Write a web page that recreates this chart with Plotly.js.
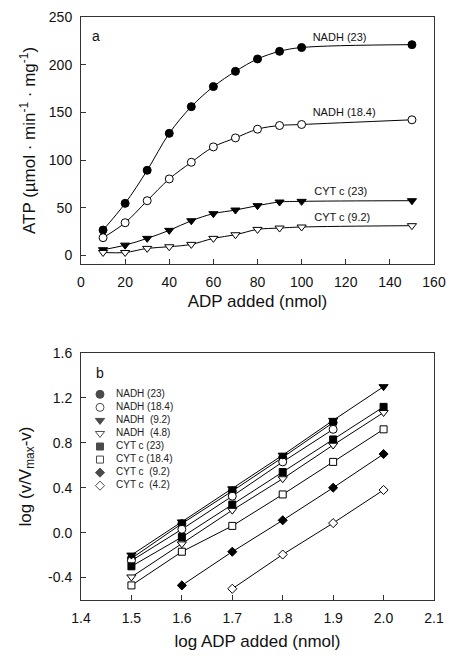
<!DOCTYPE html>
<html>
<head>
<meta charset="utf-8">
<script src="https://cdn.plot.ly/plotly-3.0.1.min.js"></script>
<style>
html,body{margin:0;padding:0;background:#fff;}
#chart{width:471px;height:659px;}
</style>
</head>
<body>
<div id="chart"></div>
<script>
// ---------- Panel a data ----------
const adpAdded = [10, 20, 30, 40, 50, 60, 70, 80, 90, 100, 150];
const nadh23 = [26.6, 54.6, 89.3, 128, 156, 177, 193, 206, 214, 218, 221];
const nadh184 = [18.6, 34.3, 57.4, 80.2, 97.7, 113.8, 123.2, 132.4, 136.2, 137.3, 142.2];
const cyt23 = [6.0, 10.8, 17.9, 26.3, 36.4, 43.8, 47.6, 52.2, 56.0, 56.7, 57.4];
const cyt92 = [3.1, 3.1, 7.4, 9.1, 11.6, 17.9, 21.7, 27.3, 28.7, 29.8, 31.2];
const curveLabels = ["NADH (23)", "NADH (18.4)", "CYT c (23)", "CYT c (9.2)"];
const curveLabelX = [105, 105, 105.7, 105.7];
const curveLabelY = [228, 149, 65.8, 38.9];

// ---------- Panel b data ----------
const logAdp = [1.5, 1.6, 1.7, 1.8, 1.9, 2.0];
const bNadh23 = [-0.23, 0.08, 0.37, 0.67, 0.98];
const bNadh184 = [-0.25, 0.03, 0.325, 0.63, 0.92];
const bNadh92 = [-0.20, 0.095, 0.39, 0.69, 1.00, 1.30];
const bNadh48 = [-0.395, -0.10, 0.20, 0.48, 0.78, 1.07];
const bCyt23 = [-0.30, -0.04, 0.25, 0.54, 0.83, 1.12];
const bCyt184 = [-0.47, -0.17, 0.06, 0.34, 0.63, 0.92];
const bCyt92 = [-0.47, -0.17, 0.11, 0.40, 0.70];
const bCyt42 = [-0.50, -0.195, 0.085, 0.38];
const legendLabels = ["NADH (23)", "NADH (18.4)", "NADH\u00a0 (9.2)", "NADH\u00a0 (4.8)",
                      "CYT c (23)", "CYT c (18.4)", "CYT c\u00a0 (9.2)", "CYT c\u00a0 (4.2)"];
const bYTickVals = [-0.4, 0.0, 0.4, 0.8, 1.2, 1.6];
const bYTickText = ["-0.4", "0.0", "0.4", "0.8", "1.2", "1.6"];

// ---------- styles ----------
const FONT = "Liberation Sans, Arial, sans-serif";
const styleA = [
  {symbol: "circle", color: "black", size: 8},
  {symbol: "circle", color: "white", size: 8},
  {symbol: "triangle-down", color: "black", size: 8},
  {symbol: "triangle-down", color: "white", size: 8}
];
const styleB = [
  {symbol: "circle", color: "black", size: 8},
  {symbol: "circle", color: "white", size: 8},
  {symbol: "triangle-down", color: "black", size: 8},
  {symbol: "triangle-down", color: "white", size: 8},
  {symbol: "square", color: "black", size: 7},
  {symbol: "square", color: "white", size: 7},
  {symbol: "diamond", color: "black", size: 7},
  {symbol: "diamond", color: "white", size: 7}
];

const traces = [];
const seriesA = [nadh23, nadh184, cyt23, cyt92];
seriesA.forEach((ys, i) => {
  traces.push({
    x: adpAdded, y: ys, xaxis: "x", yaxis: "y",
    mode: "lines+markers", type: "scatter", showlegend: false, cliponaxis: false,
    line: {color: "black", width: 1, shape: "spline"},
    marker: {symbol: styleA[i].symbol, color: styleA[i].color, size: styleA[i].size,
             line: {color: "black", width: 1}}
  });
});

const seriesB = [bNadh23, bNadh184, bNadh92, bNadh48, bCyt23, bCyt184, bCyt92, bCyt42];
seriesB.forEach((ys, i) => {
  // NADH (23) and NADH (18.4) stop at 1.9; CYT c (9.2) / (4.2) start later
  const xs = (i < 2) ? logAdp.slice(0, ys.length) : logAdp.slice(logAdp.length - ys.length);
  traces.push({
    x: xs, y: ys, xaxis: "x2", yaxis: "y2",
    mode: "lines+markers", type: "scatter", showlegend: false, cliponaxis: false,
    line: {color: "black", width: 1},
    marker: {symbol: styleB[i].symbol, color: styleB[i].color, size: styleB[i].size,
             line: {color: "black", width: 1}}
  });
});

// curve labels of panel a
traces.push({
  x: curveLabelX, y: curveLabelY, xaxis: "x", yaxis: "y",
  mode: "text", type: "scatter", showlegend: false, cliponaxis: false,
  text: curveLabels, textposition: "middle right",
  textfont: {family: FONT, size: 11, color: "#111"}
});

// custom legend for panel b
const legIdx = legendLabels.map((_, i) => i);
traces.push({
  x: legIdx.map(() => 0), y: legIdx, xaxis: "x3", yaxis: "y3",
  mode: "markers", type: "scatter", showlegend: false, cliponaxis: false,
  marker: {symbol: styleB.map(s => s.symbol), color: styleB.map(s => s.color),
           size: styleB.map(s => s.size), line: {color: "black", width: 1}}
});
traces.push({
  x: legIdx.map(() => 0.16), y: legIdx, xaxis: "x3", yaxis: "y3",
  mode: "text", type: "scatter", showlegend: false, cliponaxis: false,
  text: legendLabels, textposition: "middle right",
  textfont: {family: FONT, size: 10, color: "#222"}
});

const axisCommon = {
  showgrid: false, zeroline: false, showline: true, mirror: true,
  linecolor: "#333", linewidth: 1,
  ticks: "inside", ticklen: 5, tickwidth: 1, tickcolor: "#333",
  tickfont: {family: FONT, size: 14, color: "#111"}
};

const layout = {
  width: 471, height: 659,
  margin: {l: 81, r: 37, t: 17, b: 59},
  paper_bgcolor: "white", plot_bgcolor: "white",
  font: {family: FONT, color: "#111"},
  showlegend: false,
  xaxis: Object.assign({}, axisCommon, {
    anchor: "y", domain: [0, 1], range: [0, 160], dtick: 20, tick0: 0,
    ticklabelstandoff: 5,
    title: {text: "ADP added (nmol)", font: {family: FONT, size: 17}, standoff: 6}
  }),
  yaxis: Object.assign({}, axisCommon, {
    anchor: "x", domain: [0.5763, 1], range: [-9, 250], dtick: 50, tick0: 0,
    ticklabelstandoff: 5,
    title: {text: "ATP (\u00b5mol \u00b7 min<sup>-1</sup> \u00b7 mg<sup>-1</sup>)",
            font: {family: FONT, size: 17}, standoff: 8}
  }),
  xaxis2: Object.assign({}, axisCommon, {
    anchor: "y2", domain: [0, 1], range: [1.4, 2.1], dtick: 0.1, tick0: 1.4,
    tickformat: ".1f", ticklabelstandoff: 5,
    title: {text: "log ADP added (nmol)", font: {family: FONT, size: 17}, standoff: 10}
  }),
  yaxis2: Object.assign({}, axisCommon, {
    anchor: "x2", domain: [0, 0.4237], range: [-0.6, 1.6],
    tickmode: "array", tickvals: bYTickVals, ticktext: bYTickText,
    ticklabelstandoff: 5,
    title: {text: "log (v/V<sub>max</sub>-v)", font: {family: FONT, size: 17}, standoff: 12}
  }),
  xaxis3: {domain: [0.0538, 0.337], range: [0, 1], visible: false, fixedrange: true, anchor: "y3"},
  yaxis3: {domain: [0.1849, 0.364], range: [7.5, -0.5], visible: false, fixedrange: true, anchor: "x3"},
  annotations: [
    {xref: "paper", yref: "paper", x: (96 - 81) / 353, y: (600 - 36) / 583, text: "a", showarrow: false, xanchor: "center", yanchor: "middle", font: {family: FONT, size: 14, color: "#111"}},
    {xref: "paper", yref: "paper", x: (100 - 81) / 353, y: (600 - 373) / 583, text: "b", showarrow: false, xanchor: "center", yanchor: "middle", font: {family: FONT, size: 14, color: "#111"}}
  ]
};

Plotly.newPlot("chart", traces, layout, {displayModeBar: false});
</script>
</body>
</html>
